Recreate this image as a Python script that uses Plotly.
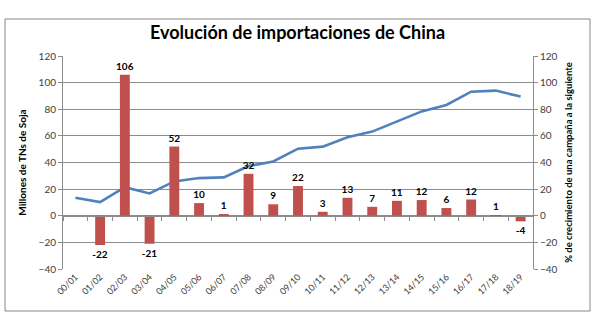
import plotly.graph_objects as go

campaigns = ["00/01", "01/02", "02/03", "03/04", "04/05", "05/06", "06/07", "07/08", "08/09", "09/10",
             "10/11", "11/12", "12/13", "13/14", "14/15", "15/16", "16/17", "17/18", "18/19"]
imports_mt = [13.5, 10.3, 21.5, 16.8, 25.8, 28.3, 28.8, 37.3, 40.8, 50.4,
              51.9, 58.9, 63.2, 70.7, 78.4, 83.2, 93.2, 94.0, 89.5]
growth_pct = [None, -22, 106, -21, 52, 9.5, 1.2, 31.5, 8.6, 22.3,
              3, 13.5, 6.7, 11.2, 11.8, 5.8, 12.2, 0.4, -4.2]
growth_labels = ["", "-22", "106", "-21", "52", "10", "1", "32", "9", "22",
                 "3", "13", "7", "11", "12", "6", "12", "1", "-4"]

title_text = "Evolución de importaciones de China"
left_title = "Millones de TNs de Soja"
right_title = "% de crecimiento de una campaña a la siguiente"

FONT = "Lato"
grid = "#8C8C8C"

fig = go.Figure()
fig.add_trace(go.Bar(
    x=campaigns, y=growth_pct, yaxis="y2", xaxis="x",
    marker=dict(color="#C0504D", line=dict(width=0)),
    text=growth_labels, textposition="outside", cliponaxis=False,
    constraintext="none",
    textfont=dict(family=FONT, size=10, color="#000000"),
    texttemplate="<b>%{text}</b>", showlegend=False,
))
fig.add_trace(go.Scatter(
    x=campaigns, y=imports_mt, yaxis="y", xaxis="x",
    mode="lines", line=dict(color="#4F81BD", width=2.6), showlegend=False,
))
# invisible trace carrying the bottom category labels
fig.add_trace(go.Scatter(
    x=campaigns, y=imports_mt, xaxis="x2", yaxis="y",
    mode="lines", opacity=0, hoverinfo="skip", showlegend=False,
))

fig.update_layout(
    width=595, height=322,
    margin=dict(l=63, r=62, t=56, b=53),
    paper_bgcolor="white", plot_bgcolor="white",
    bargap=0.6,
    title=dict(text="<b>" + title_text + "</b>", x=0.5, xanchor="center",
               y=1 - 33 / 322, yanchor="middle", yref="container",
               font=dict(family=FONT, size=18, color="#000000")),
    xaxis=dict(anchor="free", position=0.25, showline=True, linecolor=grid, linewidth=1,
               ticks="outside", tickson="boundaries", ticklen=4, tickcolor=grid,
               showticklabels=False, showgrid=False, zeroline=False),
    xaxis2=dict(overlaying="x", anchor="free", position=0, side="bottom",
                showline=False, ticks="", showgrid=False, zeroline=False,
                tickangle=-45, tickfont=dict(family=FONT, size=9, color="#404040"),
                matches="x"),
    yaxis=dict(range=[-40, 120], dtick=20, showgrid=True, gridcolor=grid, gridwidth=1,
               zeroline=False, showline=True, linecolor=grid, ticks="outside",
               ticklen=4, tickcolor=grid,
               tickfont=dict(family=FONT, size=10, color="#404040"),
               title=dict(text="<b>" + left_title + "</b>", standoff=10,
                          font=dict(family=FONT, size=10, color="#000000"))),
    yaxis2=dict(range=[-40, 120], dtick=20, overlaying="y", side="right",
                showgrid=False, zeroline=False, showline=True, linecolor=grid,
                ticks="outside", ticklen=4, tickcolor=grid,
                tickfont=dict(family=FONT, size=10, color="#404040"),
                title=dict(text="<b>" + right_title + "</b>", standoff=8,
                           font=dict(family=FONT, size=9.5, color="#000000"))),
    shapes=[dict(type="rect", xref="paper", yref="paper",
                 x0=(5 - 63) / 470, x1=(590 - 63) / 470,
                 y0=(269 - 311) / 213, y1=(269 - 19) / 213,
                 line=dict(color="#868686", width=1), fillcolor="rgba(0,0,0,0)", layer="below")],
)

fig.write_html("out.html")
